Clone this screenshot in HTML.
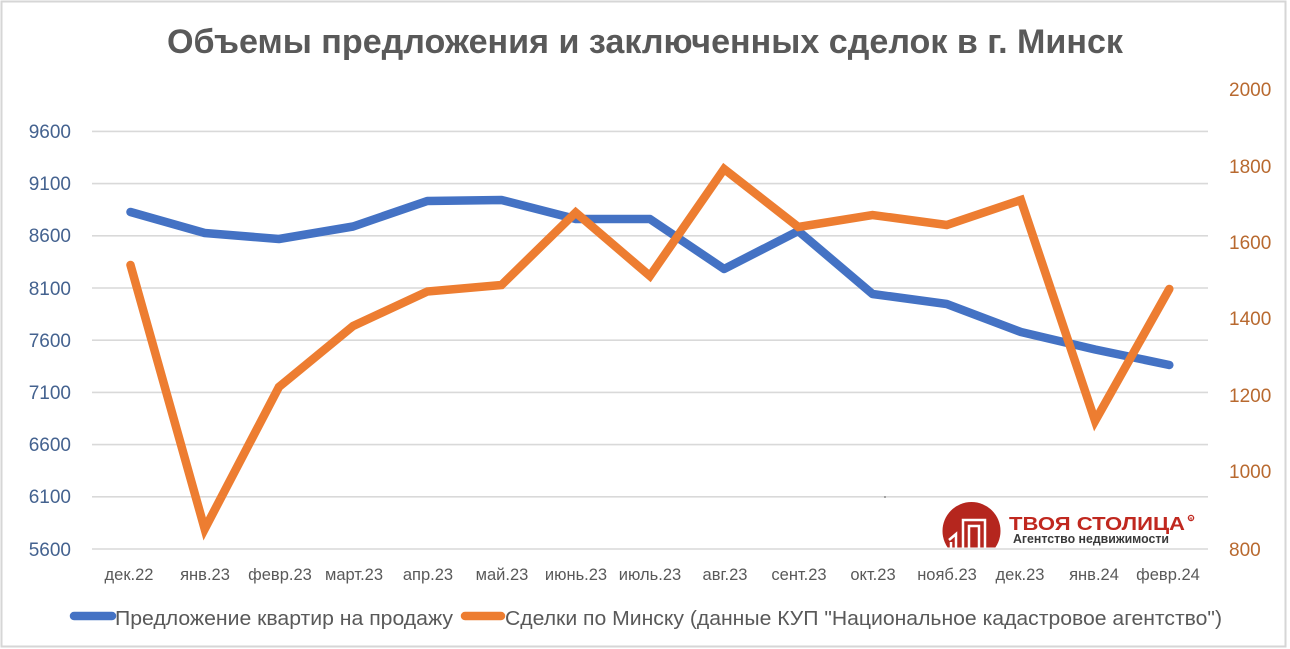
<!DOCTYPE html>
<html><head><meta charset="utf-8"><style>
html,body{margin:0;padding:0;background:#fff;}
svg{display:block;}
text{font-family:"Liberation Sans","DejaVu Sans",sans-serif;}
</style></head><body>
<svg width="1290" height="649" viewBox="0 0 1290 649" xmlns="http://www.w3.org/2000/svg">
<rect x="0" y="0" width="1290" height="649" fill="#fff"/>
<rect x="1.5" y="1.5" width="1284" height="645" fill="none" stroke="#d6d6d6" stroke-width="2"/>
<text x="167" y="53" font-size="34" font-weight="bold" fill="#595959" textLength="956" lengthAdjust="spacingAndGlyphs">Объемы предложения и заключенных сделок в г. Минск</text>
<g stroke="#d9d9d9" stroke-width="1.6">
<line x1="92" y1="131.4" x2="1208" y2="131.4"/>
<line x1="92" y1="183.6" x2="1208" y2="183.6"/>
<line x1="92" y1="235.8" x2="1208" y2="235.8"/>
<line x1="92" y1="288" x2="1208" y2="288"/>
<line x1="92" y1="340.2" x2="1208" y2="340.2"/>
<line x1="92" y1="392.4" x2="1208" y2="392.4"/>
<line x1="92" y1="444.6" x2="1208" y2="444.6"/>
<line x1="92" y1="496.8" x2="1208" y2="496.8"/>
<line x1="92" y1="549" x2="1208" y2="549"/>
</g>
<g font-size="19" fill="#44628f" text-anchor="end">
<text x="71" y="138">9600</text>
<text x="71" y="190">9100</text>
<text x="71" y="242">8600</text>
<text x="71" y="295">8100</text>
<text x="71" y="347">7600</text>
<text x="71" y="399">7100</text>
<text x="71" y="451">6600</text>
<text x="71" y="503">6100</text>
<text x="71" y="556">5600</text>
</g>
<g font-size="19" fill="#b8692f" text-anchor="start">
<text x="1229" y="96">2000</text>
<text x="1229" y="173">1800</text>
<text x="1229" y="249">1600</text>
<text x="1229" y="325">1400</text>
<text x="1229" y="402">1200</text>
<text x="1229" y="478">1000</text>
<text x="1229" y="556">800</text>
</g>
<g font-size="16.5" fill="#595959" text-anchor="middle">
<text x="129" y="580">дек.22</text>
<text x="205" y="580">янв.23</text>
<text x="280" y="580">февр.23</text>
<text x="354" y="580">март.23</text>
<text x="428" y="580">апр.23</text>
<text x="502" y="580">май.23</text>
<text x="576" y="580">июнь.23</text>
<text x="650" y="580">июль.23</text>
<text x="725" y="580">авг.23</text>
<text x="799" y="580">сент.23</text>
<text x="873" y="580">окт.23</text>
<text x="947" y="580">нояб.23</text>
<text x="1020" y="580">дек.23</text>
<text x="1094" y="580">янв.24</text>
<text x="1168" y="580">февр.24</text>
</g>
<!-- logo -->
<defs><clipPath id="c"><rect x="930" y="490" width="90" height="57.5"/></clipPath></defs>
<g clip-path="url(#c)">
<circle cx="971.5" cy="531" r="29" fill="#b5261e"/>
<g fill="none" stroke="#fff" stroke-width="2.5">
<polyline points="963,548 963,520 985,520 985,548"/>
<polyline points="969,548 969,526 979,526 979,548"/>
<polyline points="956,548 956,534 949,540"/>
<line x1="951" y1="548" x2="951" y2="542"/>
</g>
</g>
<text x="1009" y="530" font-size="18.5" font-weight="bold" fill="#c0281f" textLength="176" lengthAdjust="spacingAndGlyphs">ТВОЯ СТОЛИЦА</text>
<circle cx="1191" cy="518" r="2.6" fill="none" stroke="#c0281f" stroke-width="1.3"/>
<text x="1191" y="519.8" font-size="4" font-weight="bold" fill="#c0281f" text-anchor="middle">R</text>
<text x="1013" y="543" font-size="12.5" font-weight="bold" fill="#3a3a3a" textLength="156" lengthAdjust="spacingAndGlyphs">Агентство недвижимости</text>
<circle cx="885" cy="497" r="0.8" fill="#555"/>
<!-- series -->
<g fill="none" stroke-width="8.5" stroke-linecap="round" stroke-linejoin="round">
<polyline stroke="#4472c4" points="130.5,212 204.7,233 278.9,239 353.1,226.5 427.3,201 501.5,200 575.7,219 649.9,219 724.1,269 798.3,231 872.5,294 946.7,304 1020.9,332 1095.1,349.5 1169.3,365"/>
<polyline stroke="#ed7d31" stroke-linejoin="miter" points="130.5,265 204.7,529 278.9,387 353.1,326 427.3,291.5 501.5,285 575.7,212.5 649.9,276 724.1,169 798.3,227 872.5,215 946.7,225 1020.9,200 1095.1,421 1169.3,289"/>
</g>
<!-- legend -->
<line x1="74" y1="616" x2="112" y2="616" stroke="#4472c4" stroke-width="8.5" stroke-linecap="round"/>
<text x="115" y="625" font-size="20" fill="#595959" textLength="338" lengthAdjust="spacingAndGlyphs">Предложение квартир на продажу</text>
<line x1="465" y1="616" x2="501" y2="616" stroke="#ed7d31" stroke-width="8.5" stroke-linecap="round"/>
<text x="505" y="625" font-size="20" fill="#595959" textLength="717" lengthAdjust="spacingAndGlyphs">Сделки по Минску (данные КУП "Национальное кадастровое агентство")</text>
</svg>
</body></html>
